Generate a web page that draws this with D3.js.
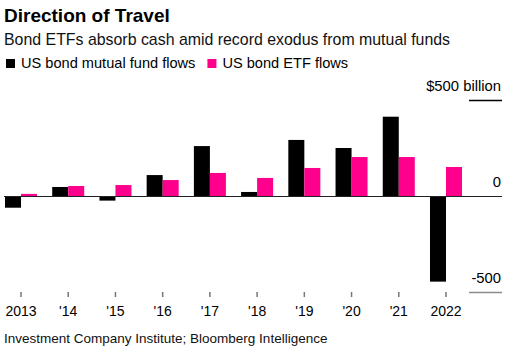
<!DOCTYPE html>
<html>
<head>
<meta charset="utf-8">
<script src="https://cdn.jsdelivr.net/npm/d3@7/dist/d3.min.js"></script>
<style>
  body { margin: 0; background: #fff; }
  svg { display: block; font-family: "Liberation Sans", Arial, sans-serif; }
</style>
</head>
<body>
<div id="chart"></div>
<script>
// data, in $ billion
var years = ["2013", "'14", "'15", "'16", "'17", "'18", "'19", "'20", "'21", "2022"];
var mutualFundFlows = [-61, 47, -24, 109, 260, 21, 292, 250, 413, -446];
var etfFlows = [11, 52, 57, 83, 120, 94, 146, 203, 203, 151];
var seriesNames = ["US bond mutual fund flows", "US bond ETF flows"];
var seriesColors = ["#000000", "#ff008c"];
var yTicks = [500, 0, -500];
var yTickLabels = ["$500 billion", "0", "-500"];

var W = 512, H = 354;

var svg = d3.select("#chart").append("svg")
    .attr("width", W)
    .attr("height", H);

// title block
svg.append("text")
    .attr("x", 4).attr("y", 22)
    .style("font-size", "19px").style("font-weight", "bold")
    .text("Direction of Travel");
svg.append("text")
    .attr("x", 4).attr("y", 45)
    .style("font-size", "15.9px").attr("fill", "#111")
    .text("Bond ETFs absorb cash amid record exodus from mutual funds");

// legend
var legend = svg.append("g").attr("transform", "translate(6,0)");
var lx = 0;
seriesNames.forEach(function (name, i) {
    var g = legend.append("g").attr("transform", "translate(" + lx + ",0)");
    g.append("rect")
        .attr("y", 59).attr("width", 9).attr("height", 9)
        .attr("fill", seriesColors[i]);
    var t = g.append("text")
        .attr("x", 15).attr("y", 68)
        .style("font-size", "14.6px")
        .text(name);
    lx += 15 + t.node().getComputedTextLength() + 12;
});

// scales
var y = d3.scaleLinear().domain([-500, 500]).range([292, 100]);
var x = d3.scaleBand().domain(years).range([5, 462]).paddingInner(0.322).paddingOuter(0);
var xs = d3.scaleBand().domain([0, 1]).range([0, x.bandwidth()]);

// gridlines + y labels
yTicks.forEach(function (v, i) {
    var x1 = v === 0 ? 4 : 469;
    svg.append("line")
        .attr("x1", x1).attr("x2", 502)
        .attr("y1", y(v) + 0.5).attr("y2", y(v) + 0.5)
        .attr("stroke", v === -500 ? "#8c8c8c" : "#000")
        .attr("stroke-width", v === 0 ? 1.2 : 1.5);
    svg.append("text")
        .attr("x", 501).attr("y", y(v) - 9)
        .attr("text-anchor", "end")
        .style("font-size", "14.8px")
        .text(yTickLabels[i]);
});

// bars
var rows = years.map(function (yr, i) { return { year: yr, vals: [mutualFundFlows[i], etfFlows[i]] }; });
var groups = svg.append("g").selectAll("g")
    .data(rows).enter()
    .append("g")
    .attr("transform", function (d) { return "translate(" + x(d.year) + ",0)"; });
groups.selectAll("rect")
    .data(function (d) { return d.vals; }).enter()
    .append("rect")
    .attr("x", function (d, i) { return xs(i); })
    .attr("width", xs.bandwidth())
    .attr("y", function (d) { return y(Math.max(0, d)); })
    .attr("height", function (d) { return Math.abs(y(d) - y(0)); })
    .attr("fill", function (d, i) { return seriesColors[i]; });

// redraw zero line over bars
svg.append("line")
    .attr("x1", 4).attr("x2", 502)
    .attr("y1", y(0) + 0.5).attr("y2", y(0) + 0.5)
    .attr("stroke", "#222").attr("stroke-width", 1.2);

// x axis
var xAxis = d3.axisBottom(x).tickSize(5).tickPadding(9).tickSizeOuter(0);
var xg = svg.append("g")
    .attr("transform", "translate(0,292)")
    .call(xAxis);
xg.select(".domain").remove();
xg.selectAll(".tick line").attr("stroke", "#777").attr("stroke-width", 1.5);
xg.selectAll(".tick text")
    .style("font-size", "14px")
    .style("font-family", "'Liberation Sans', Arial, sans-serif")
    .attr("fill", "#000");

// source
svg.append("text")
    .attr("x", 4).attr("y", 343)
    .style("font-size", "13.5px").attr("fill", "#111")
    .text("Investment Company Institute; Bloomberg Intelligence");
</script>
</body>
</html>
